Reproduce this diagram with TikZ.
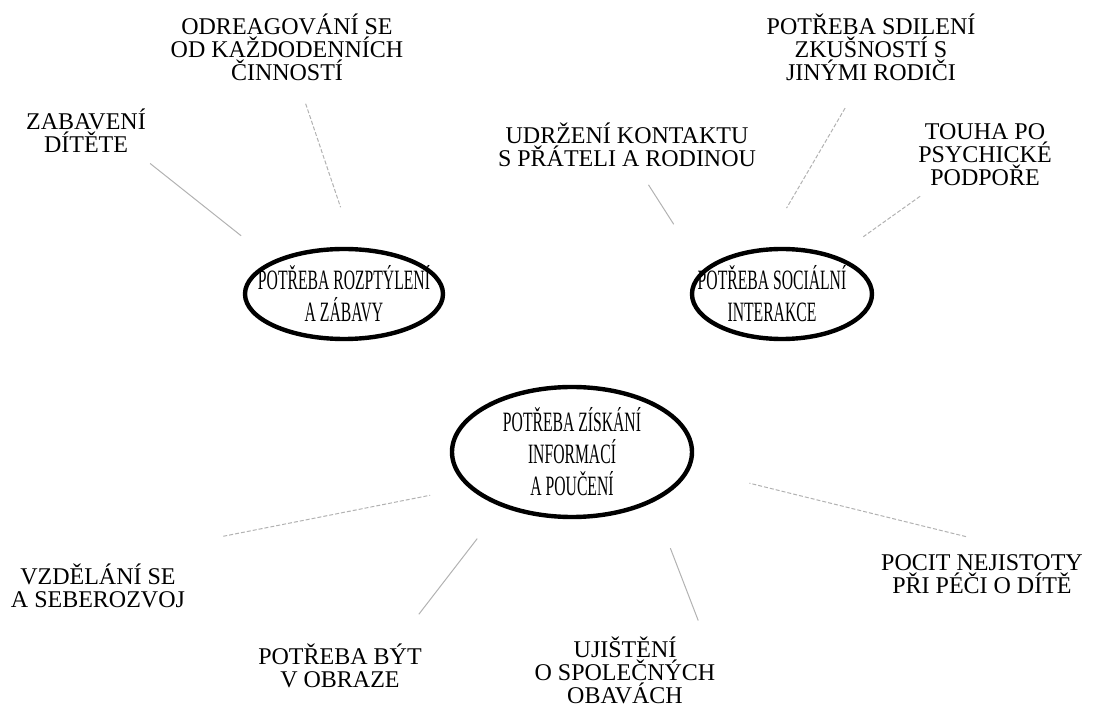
\documentclass[tikz,border=0pt]{standalone}
\usepackage{fontspec}
\setmainfont{Liberation Serif}
\newfontfamily\popisfont{Liberation Serif}
\newfontfamily\uzkyfont[FakeStretch=0.56]{Liberation Serif}
\usetikzlibrary{shapes.geometric}

\begin{document}
\begin{tikzpicture}[x=0.5pt, y=-0.5pt,
    potreba/.style={ellipse, draw, line width=2.2pt, inner sep=0pt},
    potrebatext/.style={align=center, inner sep=0pt, font=\uzkyfont\fontsize{14}{16}\selectfont},
    popis/.style={align=center, inner sep=2pt, font=\popisfont\fontsize{12}{11.5}\selectfont},
    spoke/.style={gray!60, line width=0.5pt},
    spokedash/.style={spoke, dash pattern=on 2pt off 1pt}]
    \useasboundingbox (0,0) rectangle (1099,711);

    % 三个需求 (椭圆)
    \node[potreba, minimum width=99pt, minimum height=45pt] (rozptyleni) at (344,294) {};
    \node[potrebatext] (rozptyleni-text) at (rozptyleni) {POTŘEBA ROZPTÝLENÍ\\A ZÁBAVY};
    \node[potreba, minimum width=90pt, minimum height=45pt] (socialni) at (782,294) {};
    \node[potrebatext] (socialni-text) at (772,294) {POTŘEBA SOCIÁLNÍ\\INTERAKCE};
    \node[potreba, minimum width=120pt, minimum height=65pt] (informace) at (572,452) {};
    \node[potrebatext] (informace-text) at (informace) {POTŘEBA ZÍSKÁNÍ\\INFORMACÍ\\A POUČENÍ};

    % 上面的说明
    \node[popis] (odreagovani) at (287,47) {ODREAGOVÁNÍ SE\\OD KAŽDODENNÍCH\\ČINNOSTÍ};
    \node[popis] (zabaveni) at (86,131) {ZABAVENÍ\\DÍTĚTE};
    \node[popis] (udrzeni) at (627,145) {UDRŽENÍ KONTAKTU\\S PŘÁTELI A RODINOU};
    \node[popis] (sdileni) at (871,47) {POTŘEBA SDILENÍ\\ZKUŠNOSTÍ S\\JINÝMI RODIČI};
    \node[popis] (touha) at (985,155) {TOUHA PO\\PSYCHICKÉ\\PODPOŘE};

    % 下面的说明
    \node[popis] (vzdelani) at (98,586) {VZDĚLÁNÍ SE\\A SEBEROZVOJ};
    \node[popis] (obraz) at (340,666) {POTŘEBA BÝT\\V OBRAZE};
    \node[popis] (ujisteni) at (625,670) {UJIŠTĚNÍ\\O SPOLEČNÝCH\\OBAVÁCH};
    \node[popis] (nejistota) at (982,574) {POCIT NEJISTOTY\\PŘI PÉČI O DÍTĚ};

    % 连线
    \draw[spoke, shorten <=5pt, shorten >=20pt] (zabaveni.-25) -- (rozptyleni.155);
    \draw[spokedash, shorten <=10pt, shorten >=21pt] (odreagovani.-72.5) -- (rozptyleni.78.7);
    \draw[spoke, shorten <=8pt, shorten >=27pt] (udrzeni.-64.5) -- (socialni.163.3);
    \draw[spokedash, shorten <=13.5pt, shorten >=23pt] (sdileni.-108.3) -- (socialni.112);
    \draw[spokedash, shorten <=5pt, shorten >=16.5pt] (touha.-148.9) -- (socialni.35);
    \draw[spokedash, shorten <=60pt, shorten >=19.5pt] (vzdelani.74) -- (informace.199.9);
    \draw[spoke, shorten <=16pt, shorten >=20pt] (obraz.24) -- (informace.218);
    \draw[spoke, shorten <=6.2pt, shorten >=24.5pt] (ujisteni.26.1) -- (informace.-32.9);
    \draw[spokedash, shorten <=28pt, shorten >=30.4pt] (nejistota.32.4) -- (informace.-8.3);
\end{tikzpicture}
\end{document}
